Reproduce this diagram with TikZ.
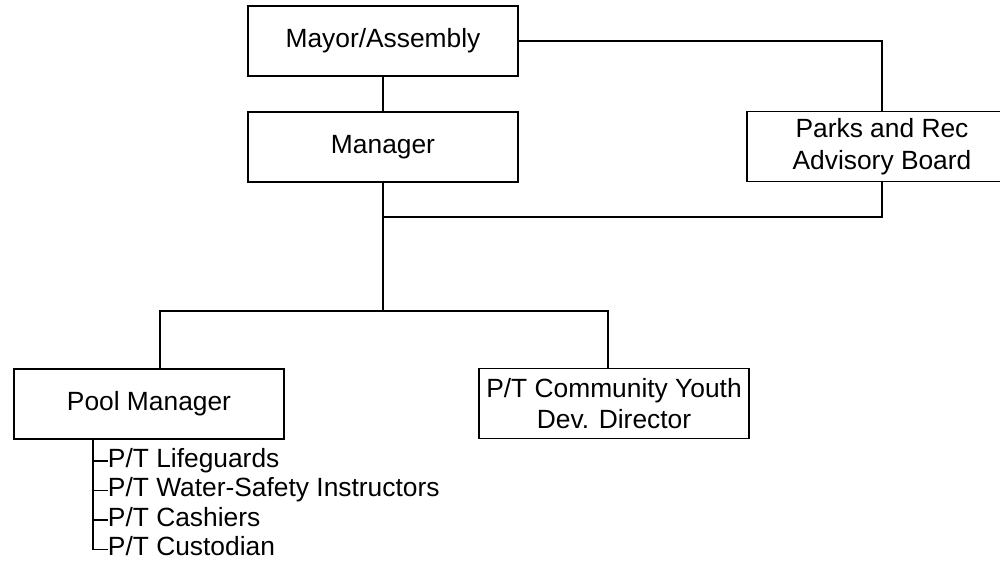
\documentclass[tikz,border=0pt]{standalone}
\usepackage{fontspec}
\setmainfont{Liberation Sans}
\begin{document}
\begin{tikzpicture}[line join=miter,line cap=rect,line width=1.1pt,
		font=\fontsize{15}{18}\selectfont,
		box/.style={draw,minimum width=5.4cm,minimum height=1.4cm,align=center,inner sep=2pt},
		item/.style={anchor=west,inner sep=0pt,text height=0.72em,text depth=0pt}]
	\useasboundingbox (0,0) rectangle (20,11.48);
	
	\node[box] (Mayor) at (7.66,10.66) {Mayor/Assembly};
	\node[box] (Manager) at (7.66,8.54) {Manager};
	\node[box] (Parks) at (17.64,8.55) {Parks and Rec\\Advisory Board};
	\node[box] (Pool) at (2.98,3.40) {Pool Manager};
	\node[box] (Youth) at (12.28,3.41) {P/T Community Youth\\Dev. Director};
	
	\coordinate (join) at (7.66,7.14);
	\coordinate (branch) at (7.66,5.26);
	\coordinate (poolbr) at (3.2,5.26);
	\coordinate (youthbr) at (12.16,5.26);
	\coordinate (listtop) at (1.86,2.70);
	
	\node[item] (guards) at (2.14,2.26) {P/T Lifeguards};
	\node[item] (wsi) at (2.14,1.67) {P/T Water-Safety Instructors};
	\node[item] (cashiers) at (2.14,1.08) {P/T Cashiers};
	\node[item] (custodian) at (2.14,0.49) {P/T Custodian};
	
	\draw (Mayor) -- (Manager);
	\draw (Mayor.east) -| (Parks.north);
	\draw (Parks.south) |- (join);
	\draw (Manager.south) -- (branch);
	\draw (poolbr) -- (youthbr);
	\draw (poolbr) -- (poolbr |- Pool.north);
	\draw (youthbr) -- (youthbr |- Youth.north);
	
	% staff under the pool manager
	\draw (listtop) |- (custodian.west);
	\foreach \n in {guards,wsi,cashiers}
		\draw (listtop |- \n.west) -- (\n.west);
\end{tikzpicture}
\end{document}
